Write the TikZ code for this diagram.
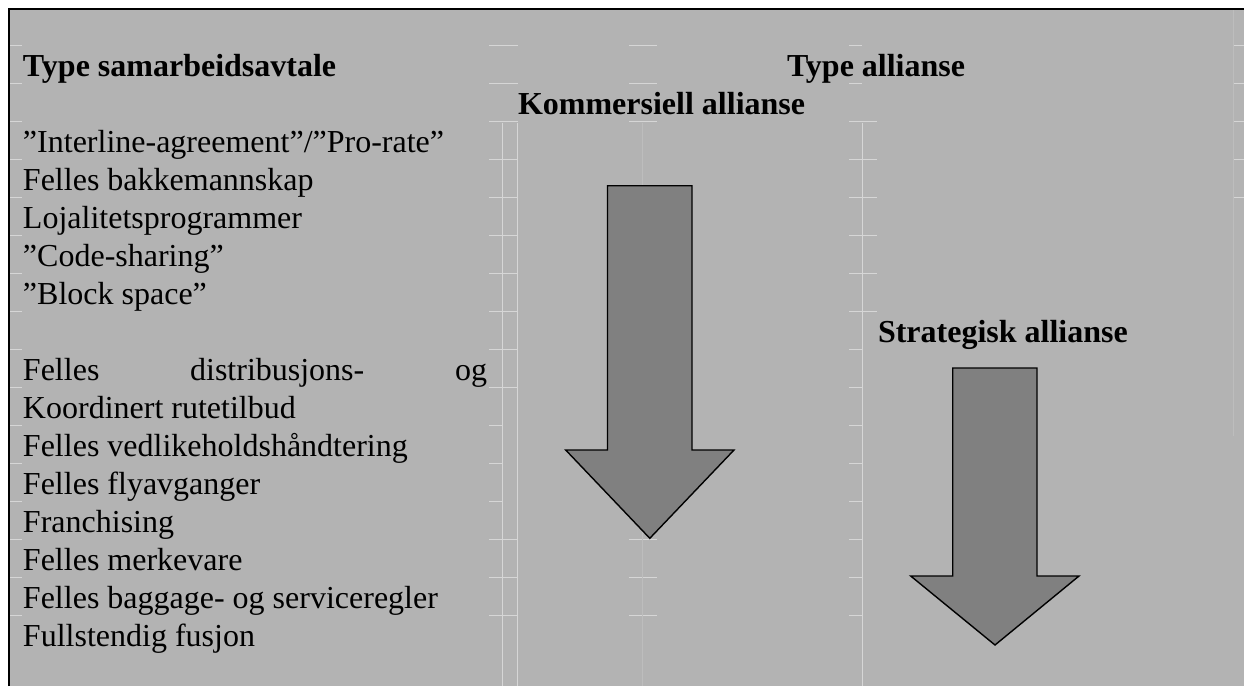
\documentclass[tikz,border=0pt]{standalone}
\usepackage{fontspec}
\setmainfont{Liberation Serif}
\definecolor{bggray}{HTML}{B3B3B3}
\definecolor{arrowgray}{HTML}{808080}
\definecolor{gridlight}{HTML}{D6D6D6}
\definecolor{gridfaint}{HTML}{BDBDBD}
\begin{document}
\begin{tikzpicture}[x=1pt,y=-1pt,
  txt/.style={anchor=base west,inner sep=0pt,outer sep=0pt,font=\fontsize{32}{38}\selectfont},
  hd/.style={anchor=base west,inner sep=0pt,outer sep=0pt,font=\fontsize{32}{38}\selectfont\bfseries},
  bigarrow/.style={fill=arrowgray,draw=black,line width=1.4pt,line join=miter},
  gridline/.style={draw=gridlight,line width=0.7pt},
  gridfaintline/.style={draw=gridfaint,line width=0.7pt},
  frame/.style={draw=black,line width=2.2pt}]
\useasboundingbox (0,0) rectangle (1244,686);
\fill[white] (0,0) rectangle (1244,686);
\fill[bggray] (9,9) rectangle (1244,686);

% faint table grid
\foreach \k in {1,...,16} {
  \draw[gridline] (10,{7.7+38*\k}) -- (22,{7.7+38*\k});
  \draw[gridline] (489,{7.7+38*\k}) -- (502,{7.7+38*\k});
  \draw[gridline] (849,{7.7+38*\k}) -- (862,{7.7+38*\k});
}
\foreach \k in {1,2,3,4,5,6,7,8,9,10,14,15,16} {
  \draw[gridline] (502,{7.7+38*\k}) -- (517.7,{7.7+38*\k});
}
\foreach \k in {1,...,5} {
  \draw[gridline] (1233,{7.7+38*\k}) -- (1244,{7.7+38*\k});
}
\foreach \k in {3,...,8} {
  \draw[gridline] (862,{7.7+38*\k}) -- (877,{7.7+38*\k});
}
\foreach \k in {1,2,3,14,15,16} {
  \draw[gridline] (629,{7.7+38*\k}) -- (656.7,{7.7+38*\k});
}
\draw[gridline] (502,122.7) -- (502,686);
\draw[gridline] (517.7,122.7) -- (517.7,686);
\draw[gridline] (862,122.7) -- (862,686);
\draw[gridfaintline] (642,122.7) -- (642,686);
\draw[gridfaintline] (1233,10) -- (1233,436);

% frame (top and left)
\draw[frame] (9,686) -- (9,9) -- (1244,9);

% headers
\node[hd] (hleft) at (23,76) {Type samarbeidsavtale};
\node[hd] (hright) at (787,76) {Type allianse};
\node[hd] (hkom) at (518,114) {Kommersiell allianse};
\node[hd] (hstr) at (878,342) {Strategisk allianse};

% list
\node[txt] (l1) at (23,152) {”Interline-agreement”/”Pro-rate”};
\node[txt] (l2) at (23,190) {Felles bakkemannskap};
\node[txt] (l3) at (23,228) {Lojalitetsprogrammer};
\node[txt] (l4) at (23,266) {”Code-sharing”};
\node[txt] (l5) at (23,304) {”Block space”};
\node[txt] (l6) at (23,380) {\makebox[464pt][s]{Felles distribusjons- og}};
\node[txt] (l7) at (23,418) {Koordinert rutetilbud};
\node[txt] (l8) at (23,456) {Felles vedlikeholdshåndtering};
\node[txt] (l9) at (23,494) {Felles flyavganger};
\node[txt] (l10) at (23,532) {Franchising};
\node[txt] (l11) at (23,570) {Felles merkevare};
\node[txt] (l12) at (23,608) {Felles baggage- og serviceregler};
\node[txt] (l13) at (23,646) {Fullstendig fusjon};

% arrows
\draw[bigarrow] (607.5,185.7) -- (692,185.7) -- (692,450) -- (734,450)
  -- (649.8,538.3) -- (565.7,450) -- (607.5,450) -- cycle;
\draw[bigarrow] (952.7,368) -- (1037,368) -- (1037,576) -- (1079,576)
  -- (995,645) -- (910.7,576) -- (952.7,576) -- cycle;
\end{tikzpicture}
\end{document}
